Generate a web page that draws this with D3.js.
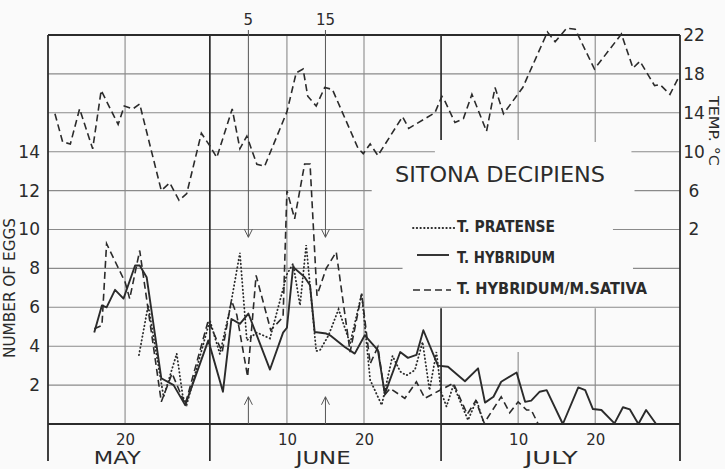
<!DOCTYPE html>
<html><head><meta charset="utf-8">
<script src="https://cdn.jsdelivr.net/npm/d3@7"></script>
<style>html,body{margin:0;padding:0;background:#fafafa;} svg{display:block;}</style>
</head><body><svg id="c" width="725" height="469"></svg>
<script>
// ---- data (day numbers: May 1 = 1, June 1 = 32, July 1 = 62) ----
const tempDays = [10.9,11.9,12.9,14.1,15.8,16.9,19.1,19.9,21.0,21.9,24.7,25.8,27.0,28.0,29.9,31.0,31.9,33.9,34.9,35.8,37.1,38.1,41.0,42.2,43.1,43.7,44.8,45.9,46.9,50.2,50.9,51.8,52.8,56.0,56.8,60.2,61.1,61.5,62.8,63.9,65.0,66.9,68.0,69.1,71.6,74.8,75.8,77.3,78.4,80.9,84.4,85.9,86.8,88.7,89.4,90.7,91.8];
const tempC    = [13.9,11.0,10.8,14.4,10.3,16.3,12.8,14.7,14.4,14.9,6.0,6.8,5.0,5.7,11.9,10.6,9.4,14.4,10.3,11.6,8.7,8.5,14.1,18.1,18.5,15.7,14.7,16.6,16.4,10.4,9.8,10.8,9.6,13.6,12.4,14.0,15.7,15.2,13.0,13.4,15.9,12.1,16.6,13.9,16.6,22.3,21.3,22.7,22.6,18.5,22.1,18.6,19.3,16.8,16.9,15.9,17.6];

const hybridumDays = [16.0,17.0,17.6,18.7,19.8,21.3,21.9,22.8,24.7,26.3,27.8,30.8,32.7,33.8,34.9,36.0,38.8,40.5,41.0,41.8,43.3,44.0,44.6,46.1,46.6,48.5,49.8,51.1,52.8,53.7,55.7,56.7,57.8,58.7,60.6,61.9,64.1,65.8,66.7,67.8,68.8,70.8,71.9,72.7,73.8,74.7,76.8,78.8,79.7,80.7,81.8,83.5,84.6,85.5,86.6,87.6,88.9,89.4];
const hybridumEggs = [4.7,6.1,6.0,6.9,6.45,8.15,8.15,7.55,2.35,2.0,0.97,4.3,1.66,5.4,5.15,5.68,2.8,4.7,4.95,8.07,7.55,7.13,4.73,4.65,4.56,3.96,3.62,4.56,3.8,1.55,3.7,3.4,3.55,4.82,3.0,2.94,2.2,2.86,1.1,1.4,2.17,2.65,1.14,1.2,1.66,1.74,0,1.88,1.74,0.77,0.72,0.03,0.86,0.75,0,0.72,0,0];

const sativaDays = [16.0,17.0,17.6,20.0,20.6,21.9,24.7,26.1,27.8,30.8,31.5,32.6,33.8,34.5,35.9,37.0,38.9,40.5,41.0,42.0,43.3,44.0,44.9,46.1,47.4,49.2,50.7,51.8,52.8,53.7,54.4,56.3,57.8,58.9,61.3,62.6,64.4,65.5,66.6,68.8,69.9,71.0,72.1,72.7,73.6];
const sativaEggs = [4.9,5.07,9.27,7.3,6.44,8.92,1.14,2.6,1.0,5.33,4.67,3.7,6.36,5.6,2.43,7.64,4.82,5.5,12.0,10.55,13.37,13.37,6.6,8.0,8.84,3.7,6.7,3.1,3.96,1.5,1.83,1.32,2.17,1.32,1.83,2.1,0.5,1.2,0.05,1.4,0.58,1.14,0.72,0.72,0];

const pratenseDays = [21.8,23.0,25.0,26.7,27.5,28.0,31.0,32.3,33.6,34.9,35.8,37.1,38.8,41.0,41.8,42.7,43.5,44.8,45.3,46.4,47.7,49.2,50.7,51.8,53.3,54.7,55.7,56.5,57.6,58.6,59.5,60.4,61.0,61.7,62.6,64.5,65.6,66.5];
const pratenseEggs = [3.54,6.1,1.4,3.62,1.4,1.0,5.33,3.6,5.9,8.8,4.3,4.7,4.4,7.7,8.24,6.1,9.2,3.75,3.8,4.56,5.9,4.14,6.7,2.26,0.97,3.5,2.7,2.5,2.77,4.22,1.74,3.7,1.66,0.9,2.0,0.2,1.23,0.1];

const eggTicks = [2,4,6,8,10,12,14];
const tempTicks = [2,6,10,14,18,22];
const dayTicks = [20,41,51,71,81];
const dayTickLabels = ["20","10","20","10","20"];
const monthNames = ["MAY","JUNE","JULY"];
const monthBounds = [31,61];
const arrowDays = [36,46];
const arrowLabels = ["5","15"];
const legendNames = ["T. PRATENSE","T. HYBRIDUM","T. HYBRIDUM/M.SATIVA"];
const title = "SITONA DECIPIENS";

// ---- layout ----
const W=725,H=469;
const svg=d3.select("#c");
svg.append("rect").attr("width",W).attr("height",H).attr("fill","#fafafa");
const x=d3.scaleLinear().domain([10,92]).range([48,680]);
const y=d3.scaleLinear().domain([0,20]).range([424,35]);
const yT=d3.scaleLinear().domain([-18,22]).range([424,35]);
const ink="#2b2b2b", grid="#8a8a8a";
const FONT="'DejaVu Sans', sans-serif";

// gaps in grid behind legend (day ranges for horizontals, egg ranges for verticals)
const hGaps = {14:[60.2,85.7],12:[52,86.1],10:[51,83.3],8:[56,85.9]};
const vGaps = {61:[5.95,14.6],71:[3.7,14.6],81:[5.95,14.5]};

const g=svg.append("g");
// horizontal grid
for(let v=2; v<=18; v+=2){
  const segs = hGaps[v] ? [[10,hGaps[v][0]],[hGaps[v][1],92]] : [[10,92]];
  segs.forEach(s=>g.append("line").attr("x1",x(s[0])).attr("x2",x(s[1]))
    .attr("y1",y(v)).attr("y2",y(v)).attr("stroke",grid).attr("stroke-width",1.1));
}
// vertical day grid
dayTicks.forEach(d=>{
  const segs = vGaps[d] ? [[0,vGaps[d][0]],[vGaps[d][1],20]] : [[0,20]];
  segs.forEach(s=>g.append("line").attr("x1",x(d)).attr("x2",x(d))
    .attr("y1",y(s[0])).attr("y2",y(s[1])).attr("stroke",grid).attr("stroke-width",1.1));
});
// frame
const frameBottom = 461;
[10,92].forEach(d=>g.append("line").attr("x1",x(d)).attr("x2",x(d))
  .attr("y1",y(20)).attr("y2",frameBottom).attr("stroke",ink).attr("stroke-width",1.8));
monthBounds.forEach(d=>{
  const segs = vGaps[d] ? [[y(vGaps[d][1]),y(20)],[frameBottom,y(vGaps[d][0])]] : [[frameBottom,y(20)]];
  segs.forEach(s=>g.append("line").attr("x1",x(d)).attr("x2",x(d))
    .attr("y1",s[0]).attr("y2",s[1]).attr("stroke",ink).attr("stroke-width",1.7));
});
[0,20].forEach(v=>g.append("line").attr("x1",x(10)).attr("x2",x(92))
  .attr("y1",y(v)).attr("y2",y(v)).attr("stroke",ink).attr("stroke-width",1.8));

// arrows
arrowDays.forEach((d,i)=>{
  const ax=x(d);
  g.append("line").attr("x1",ax).attr("x2",ax).attr("y1",30).attr("y2",y(9.6)).attr("stroke","#555").attr("stroke-width",1);
  g.append("path").attr("d",`M${ax-4},${y(9.6)-8}L${ax},${y(9.6)}L${ax+4},${y(9.6)-8}`).attr("fill","none").attr("stroke","#555").attr("stroke-width",1);
  g.append("line").attr("x1",ax).attr("x2",ax).attr("y1",y(0)).attr("y2",y(1.4)).attr("stroke","#555").attr("stroke-width",1);
  g.append("path").attr("d",`M${ax-4},${y(1.4)+8}L${ax},${y(1.4)}L${ax+4},${y(1.4)+8}`).attr("fill","none").attr("stroke","#555").attr("stroke-width",1);
  g.append("text").attr("x",ax).attr("y",25).attr("text-anchor","middle")
    .attr("font-family",FONT).attr("font-size",15).attr("fill",ink).text(arrowLabels[i]);
});

// data lines
const line=(xs,ys,sc)=>d3.line().x((d,i)=>x(xs[i])).y((d,i)=>sc(ys[i]))(xs);
g.append("path").attr("d",line(tempDays,tempC,yT)).attr("fill","none").attr("stroke",ink)
  .attr("stroke-width",1.6).attr("stroke-dasharray","7,4");
g.append("path").attr("d",line(sativaDays,sativaEggs,y)).attr("fill","none").attr("stroke",ink)
  .attr("stroke-width",1.6).attr("stroke-dasharray","7,4");
g.append("path").attr("d",line(pratenseDays,pratenseEggs,y)).attr("fill","none").attr("stroke",ink)
  .attr("stroke-width",1.8).attr("stroke-dasharray","0.5,3.2").attr("stroke-linecap","round");
g.append("path").attr("d",line(hybridumDays,hybridumEggs,y)).attr("fill","none").attr("stroke",ink)
  .attr("stroke-width",1.9).attr("stroke-linejoin","round");

// axes
const la=svg.append("g").attr("transform",`translate(${x(10)},0)`)
  .call(d3.axisLeft(y).tickValues(eggTicks).tickSize(0).tickPadding(8));
la.select(".domain").remove();
la.selectAll("text").attr("font-family",FONT).attr("font-size",17).attr("fill",ink);
const ra=svg.append("g").attr("transform",`translate(${x(92)},0)`)
  .call(d3.axisRight(yT).tickValues(tempTicks).tickSize(0).tickPadding(14));
ra.select(".domain").remove();
ra.selectAll("text").attr("font-family",FONT).attr("font-size",17).attr("fill",ink).attr("text-anchor","middle");
const ba=svg.append("g").attr("transform",`translate(0,${y(0)})`)
  .call(d3.axisBottom(x).tickValues(dayTicks).tickFormat((d,i)=>dayTickLabels[i]).tickSize(0).tickPadding(10));
ba.select(".domain").remove();
ba.selectAll("text").attr("font-family",FONT).attr("font-size",15).attr("fill",ink);

// month labels
const monthCenter=[19,45.7,75.3], monthLen=[47,55,53];
monthNames.forEach((m,i)=>svg.append("text").attr("x",x(monthCenter[i])).attr("y",464)
  .attr("text-anchor","middle").attr("font-family",FONT).attr("font-size",18).attr("fill",ink)
  .attr("textLength",monthLen[i]).attr("lengthAdjust","spacingAndGlyphs").text(m));

// axis titles
svg.append("text").attr("transform","translate(15,288) rotate(-90)").attr("text-anchor","middle")
  .attr("font-family",FONT).attr("font-size",15).attr("fill",ink)
  .attr("textLength",140).attr("lengthAdjust","spacingAndGlyphs").text("NUMBER OF EGGS");
svg.append("text").attr("transform","translate(709,131) rotate(90)").attr("text-anchor","middle")
  .attr("font-family",FONT).attr("font-size",14).attr("fill",ink)
  .attr("textLength",70).attr("lengthAdjust","spacingAndGlyphs").text("TEMP. °C");

// title & legend
svg.append("text").attr("x",395).attr("y",182).attr("font-family",FONT).attr("font-size",21)
  .attr("fill",ink).attr("textLength",210).attr("lengthAdjust","spacingAndGlyphs").text(title);
const legY=[232,263,294], legLen=[98,98,190];
const legStyle=[{da:"0.5,3.2",cap:"round",w:1.8,x1:413,x2:455,dy:-4},{da:null,cap:"butt",w:1.9,x1:417,x2:449,dy:-8},{da:"7,4",cap:"butt",w:1.6,x1:413,x2:451,dy:-4}];
legendNames.forEach((n,i)=>{
  const s=legStyle[i];
  svg.append("line").attr("x1",s.x1).attr("x2",s.x2).attr("y1",legY[i]+s.dy).attr("y2",legY[i]+s.dy)
    .attr("stroke",ink).attr("stroke-width",s.w).attr("stroke-dasharray",s.da).attr("stroke-linecap",s.cap);
  svg.append("text").attr("x",457).attr("y",legY[i]).attr("font-family",FONT).attr("font-size",15)
    .attr("font-weight","bold").attr("fill",ink).attr("textLength",legLen[i]).attr("lengthAdjust","spacingAndGlyphs").text(n);
});
</script></body></html>
